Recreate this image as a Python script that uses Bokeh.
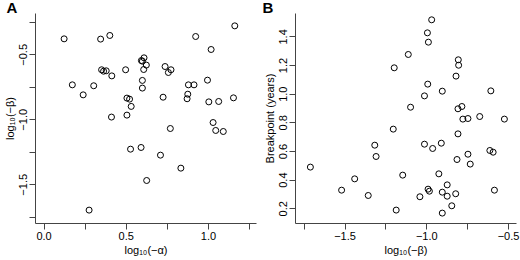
from bokeh.plotting import figure
from bokeh.layouts import row
from bokeh.models import Range1d, FixedTicker, Title
from bokeh.embed import file_html
from bokeh.resources import INLINE

# Panel A: log10(-alpha) vs log10(-beta)
a_alpha = [0.122, 0.172, 0.238, 0.274, 0.302, 0.344, 0.350, 0.362, 0.378, 0.400,
           0.412, 0.410, 0.496, 0.504, 0.520, 0.504, 0.530, 0.526, 0.590, 0.598,
           0.608, 0.622, 0.606, 0.598, 0.598, 0.624, 0.708, 0.724, 0.736, 0.756,
           0.772, 0.768, 0.832, 0.870, 0.874, 0.878, 0.912, 0.922, 0.994, 1.002,
           1.016, 1.028, 1.044, 1.062, 1.090, 1.152, 1.160, 0.592]
a_beta = [-0.377, -0.731, -0.808, -1.695, -0.738, -0.379, -0.615, -0.626, -0.623, -0.351,
          -0.662, -0.979, -0.615, -0.833, -0.841, -0.964, -0.897, -1.226, -1.213, -0.549,
          -0.523, -0.579, -0.613, -0.697, -0.756, -1.467, -1.272, -0.826, -0.590, -0.636,
          -0.615, -1.067, -1.372, -0.838, -0.803, -0.731, -0.731, -0.359, -0.695, -0.862,
          -0.459, -1.021, -1.082, -0.859, -1.090, -0.831, -0.277, -0.544]

# Panel B: log10(-beta) vs breakpoint (years)
b_beta = [-1.712, -1.521, -1.441, -1.358, -1.318, -1.310, -1.205, -1.199, -1.187, -1.147,
          -1.113, -1.099, -1.042, -1.014, -1.014, -0.996, -0.994, -0.992, -0.984, -0.990,
          -0.970, -0.964, -0.926, -0.911, -0.905, -0.905, -0.905, -0.875, -0.875, -0.847,
          -0.821, -0.823, -0.815, -0.809, -0.809, -0.807, -0.805, -0.785, -0.779, -0.748,
          -0.748, -0.734, -0.676, -0.614, -0.608, -0.594, -0.586, -0.525]
b_breakpoint = [0.491, 0.330, 0.409, 0.293, 0.644, 0.565, 0.756, 1.184, 0.191, 0.435,
                1.277, 0.909, 0.284, 0.988, 0.651, 1.428, 1.070, 0.337, 0.323, 1.363,
                1.519, 0.621, 0.444, 0.658, 1.021, 0.316, 0.170, 0.367, 0.288, 0.221,
                1.126, 0.305, 0.544, 0.723, 0.898, 1.240, 1.202, 0.914, 0.826, 0.830,
                0.581, 0.512, 0.844, 0.607, 1.023, 0.595, 0.330, 0.826]

a_xticks = [0.0, 0.25, 0.5, 0.75, 1.0, 1.25]
a_xlabels = {0.0: "0.0", 0.25: "", 0.5: "0.5", 0.75: "", 1.0: "1.0", 1.25: ""}
a_yticks = [-0.25, -0.5, -0.75, -1.0, -1.25, -1.5, -1.75]
a_ylabels = {-0.25: "", -0.5: "\u22120.5", -0.75: "", -1.0: "\u22121.0", -1.25: "", -1.5: "\u22121.5", -1.75: ""}
b_xticks = [-1.75, -1.5, -1.25, -1.0, -0.75, -0.5]
b_xlabels = {-1.75: "", -1.5: "\u22121.5", -1.25: "", -1.0: "\u22121.0", -0.75: "", -0.5: "\u22120.5"}
b_yticks = [0.2, 0.4, 0.6, 0.8, 1.0, 1.2, 1.4]
b_ylabels = {0.2: "0.2", 0.4: "0.4", 0.6: "0.6", 0.8: "0.8", 1.0: "1.0", 1.2: "1.2", 1.4: "1.4"}

FONT = "Liberation Sans"


def make_panel(x, y, xr, yr, xt, xl, yt, yl, xlabel, ylabel, letter, lx):
    p = figure(width=260, height=260, output_backend="svg", toolbar_location=None,
               x_range=Range1d(*xr), y_range=Range1d(*yr),
               min_border_left=32, min_border_right=4, min_border_top=13, min_border_bottom=37)
    p.outline_line_color = None
    p.xgrid.visible = False
    p.ygrid.visible = False
    p.background_fill_color = "white"
    p.border_fill_color = "white"
    p.scatter(x, y, size=6, marker="circle", fill_color=None, line_color="black", line_width=1)
    p.xaxis.ticker = FixedTicker(ticks=xt)
    p.xaxis.major_label_overrides = xl
    p.yaxis.ticker = FixedTicker(ticks=yt)
    p.yaxis.major_label_overrides = yl
    p.yaxis.major_label_orientation = "vertical"
    for ax in (p.xaxis[0], p.yaxis[0]):
        ax.minor_tick_line_color = None
        ax.major_tick_out = 6
        ax.major_tick_in = 0
        ax.axis_line_color = "#444444"
        ax.major_tick_line_color = "#444444"
        ax.major_label_text_font = FONT
        ax.major_label_text_font_size = "11px"
        ax.major_label_text_color = "black"
        ax.major_label_standoff = 2
        ax.axis_label_text_font = FONT
        ax.axis_label_text_font_size = "11px"
        ax.axis_label_text_font_style = "normal"
        ax.axis_label_text_color = "black"
        ax.axis_label_standoff = 1
    p.xaxis.axis_label = xlabel
    p.yaxis.axis_label = ylabel
    p.title = Title(text=letter, text_font=FONT, text_font_size="15px", text_font_style="bold",
                    text_color="black", align="left", offset=lx, standoff=-8,
                    vertical_align="top")
    return p


pa = make_panel(a_alpha, a_beta, (-0.052, 1.292), (-1.798, -0.182),
                a_xticks, a_xlabels, a_yticks, a_ylabels,
                "log\u2081\u2080(\u2212\u03b1)", "log\u2081\u2080(\u2212\u03b2)", "A", -29)
pb = make_panel(b_beta, b_breakpoint, (-1.803, -0.451), (0.0974, 1.563),
                b_xticks, b_xlabels, b_yticks, b_ylabels,
                "log\u2081\u2080(\u2212\u03b2)", "Breakpoint (years)", "B", -33)

layout = row(pa, pb)
open("out.html", "w").write(file_html(layout, INLINE))
